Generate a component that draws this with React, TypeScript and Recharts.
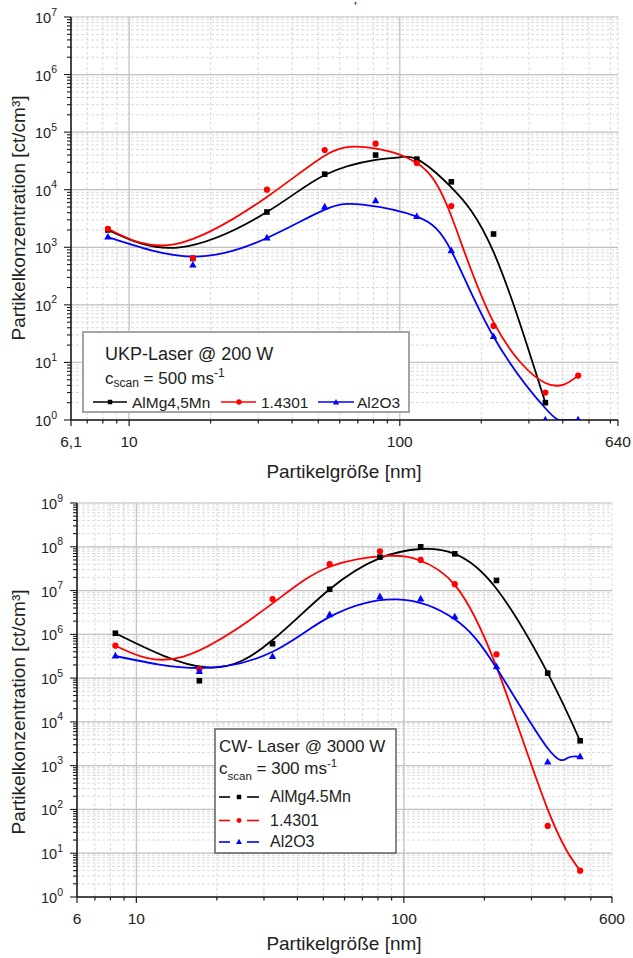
import React from 'react';
import { ComposedChart, XAxis, YAxis, CartesianGrid, ReferenceLine, Scatter, Line } from 'recharts';

const FONT = '"Liberation Sans", Arial, Helvetica, sans-serif';
const RED = '#ff0000';
const BLUE = '#0000ff';
const BLACK = '#000000';
const AXIS = '#1a1a1a';
const TXT = '#222222';

// ---------- particle size channels (nm) ----------
const sizeNm = [8.35, 17.2, 32.3, 52.8, 81.4, 115.6, 155, 222, 345, 456];

// ---------- UKP-Laser @ 200 W : measured ----------
const ukpAlMg = [2000, 640, 4100, 18600, 40000, 34000, 13700, 1700, 2.0];
const ukp14301 = [2100, 650, 10000, 49000, 63000, 29000, 5200, 43, 3.0, 5.9];
const ukpAl2O3 = [1500, 490, 1450, 5000, 6400, 3400, 870, 28, 1.0, 1.0];

// ---------- UKP-Laser @ 200 W : fitted curves ----------
const ukpFitAlMgX = [8.35, 15.4, 32.3, 52.8, 81.4, 97.5, 115.6, 155, 222, 345];
const ukpFitAlMgY = [2000, 1000, 4100, 18000, 33000, 36000, 34000, 11000, 830, 2.0];
const ukpFit14301X = [8.35, 15.0, 32.3, 52.8, 74.3, 115.6, 155, 222, 345, 456];
const ukpFit14301Y = [2100, 1150, 7500, 39000, 55000, 29000, 3500, 50, 4.4, 5.9];
const ukpFitAl2O3X = [8.35, 17.2, 32.3, 52.8, 73, 115.6, 155, 222, 345, 400, 456];
const ukpFitAl2O3Y = [1500, 690, 1450, 4500, 5500, 3400, 870, 28, 1.6, 1.0, 1.0];

// ---------- CW-Laser @ 3000 W : measured ----------
const cwAlMg = [1.06e6, 8.7e4, 6.1e5, 1.07e7, 5.8e7, 1.0e8, 6.9e7, 1.7e7, 1.3e5, 3700];
const cw14301 = [5.5e5, 1.6e5, 6.4e6, 4.0e7, 7.9e7, 5.0e7, 1.4e7, 3.5e5, 42, 4.0];
const cwAl2O3 = [3.2e5, 1.4e5, 3.1e5, 2.8e6, 7.2e6, 6.4e6, 2.5e6, 1.8e5, 1200, 1600];

// ---------- CW-Laser @ 3000 W : fitted curves ----------
const cwFitAlMgX = [8.35, 18.4, 32.3, 52.8, 81.4, 115.6, 155, 222, 345, 456];
const cwFitAlMgY = [1.06e6, 1.75e5, 7.4e5, 1.07e7, 5.5e7, 8.9e7, 6.9e7, 1.1e7, 1.3e5, 3700];
const cwFit14301X = [8.35, 15.0, 32.3, 52.8, 86.7, 115.6, 155, 222, 345, 456];
const cwFit14301Y = [5.5e5, 3.1e5, 5.1e6, 3.5e7, 6.2e7, 4.8e7, 1.35e7, 1.8e5, 100, 4];
const cwFitAl2O3X = [8.35, 17.2, 32.3, 52.8, 94, 155, 222, 345, 409, 456];
const cwFitAl2O3Y = [3.2e5, 1.7e5, 4.0e5, 2.5e6, 6.3e6, 2.2e6, 1.7e5, 2500, 1500, 1600];

// ---------- ticks ----------
const MINOR_MULT = [2, 3, 4, 5, 6, 7, 8, 9];
const ukpYMajor = [1, 10, 100, 1e3, 1e4, 1e5, 1e6, 1e7];
const cwYMajor = [1, 10, 100, 1e3, 1e4, 1e5, 1e6, 1e7, 1e8, 1e9];
const ukpXLabelValues = [6.1, 10, 100, 640];
const ukpXLabelText = ['6,1', '10', '100', '640'];
const ukpXMinor = [7, 8, 9, 20, 30, 40, 50, 60, 70, 80, 90, 200, 300, 400, 500, 600];
const cwXLabelValues = [6, 10, 100, 600];
const cwXLabelText = ['6', '10', '100', '600'];
const cwXMinor = [7, 8, 9, 20, 30, 40, 50, 60, 70, 80, 90, 200, 300, 400, 500];
const xMajorGrid = [10, 100];

const pts = (xs: number[], ys: number[]) => ys.map((y, i) => ({ x: xs[i], y }));

function logYTicks(majors: number[]) {
  const out: number[] = [];
  majors.forEach((m, i) => {
    out.push(m);
    if (i < majors.length - 1) MINOR_MULT.forEach((k) => out.push(k * m));
  });
  return out;
}

type Kind = 'square' | 'circle' | 'triangle';

function Marker({ cx, cy, kind, color, s = 1 }: { cx: number; cy: number; kind: Kind; color: string; s?: number }) {
  if (cx == null || cy == null || isNaN(cx) || isNaN(cy)) return null;
  if (kind === 'square') {
    const h = 2.8 * s;
    return <rect x={cx - h} y={cy - h} width={2 * h} height={2 * h} fill={color} />;
  }
  if (kind === 'circle') return <circle cx={cx} cy={cy} r={3.1 * s} fill={color} />;
  const a = 3.7 * s;
  return <polygon points={`${cx},${cy - 4.2 * s} ${cx - a},${cy + 2.4 * s} ${cx + a},${cy + 2.4 * s}`} fill={color} />;
}

type SeriesDef = { name: string; color: string; kind: Kind; data: { x: number; y: number }[]; fit: { x: number; y: number }[] };

type ChartDef = {
  width: number;
  height: number;
  margin: { top: number; right: number; bottom: number; left: number };
  xDomain: [number, number];
  yDomain: [number, number];
  xLabelValues: number[];
  xLabelText: string[];
  xMinor: number[];
  yMajor: number[];
  series: SeriesDef[];
};

function LogChart({ def }: { def: ChartDef }) {
  const labelMap = new Map<number, string>();
  def.xLabelValues.forEach((v, i) => labelMap.set(v, def.xLabelText[i]));
  const xTicks = [...def.xLabelValues, ...def.xMinor].sort((a, b) => a - b);
  const yTicks = logYTicks(def.yMajor);
  const yMajorSet = new Set(def.yMajor);

  const bottomTick = (p: any) => {
    const v = p.payload.value;
    const lab = labelMap.get(v);
    const len = lab !== undefined ? 6 : 3.5;
    return (
      <g>
        <line x1={p.x} x2={p.x} y1={p.y} y2={p.y + len} stroke={AXIS} strokeWidth={1.2} />
        {lab !== undefined && (
          <text x={p.x} y={p.y + 26.5} textAnchor="middle" fontSize={15.5} fontFamily={FONT} fill={TXT}>
            {lab}
          </text>
        )}
      </g>
    );
  };
  const topTick = (p: any) => {
    const v = p.payload.value;
    const len = labelMap.has(v) ? 7 : 4;
    return <line x1={p.x} x2={p.x} y1={p.y} y2={p.y + len} stroke={AXIS} strokeWidth={1.2} />;
  };
  const leftTick = (p: any) => {
    const v = p.payload.value;
    const major = yMajorSet.has(v);
    const exp = Math.round(Math.log10(v));
    return (
      <g>
        <line x1={p.x - (major ? 7 : 4)} x2={p.x} y1={p.y} y2={p.y} stroke={AXIS} strokeWidth={1.1} />
        {major && (
          <text x={p.x - 14} y={p.y + 6} textAnchor="end" fontSize={14.5} fontFamily={FONT} fill={TXT}>
            10
            <tspan dy={-7.5} fontSize={10.5}>
              {exp}
            </tspan>
          </text>
        )}
      </g>
    );
  };
  const rightTick = (p: any) => {
    const v = p.payload.value;
    const major = yMajorSet.has(v);
    return <line x1={p.x - (major ? 7 : 4)} x2={p.x} y1={p.y} y2={p.y} stroke={AXIS} strokeWidth={1.1} />;
  };

  const axisLine = { stroke: AXIS, strokeWidth: 1.6 };

  return (
    <ComposedChart width={def.width} height={def.height} margin={def.margin}>
      <CartesianGrid xAxisId="b" yAxisId="l" stroke="#d2d2d2" strokeDasharray="3 2" strokeWidth={0.8} />
      {def.yMajor.map((v) => (
        <ReferenceLine key={'ry' + v} xAxisId="b" yAxisId="l" y={v} stroke="#c2c2c2" strokeWidth={1.2} />
      ))}
      {xMajorGrid.map((v) => (
        <ReferenceLine key={'rx' + v} xAxisId="b" yAxisId="l" x={v} stroke="#c2c2c2" strokeWidth={1.2} />
      ))}
      {def.series.map((s) => (
        <Line
          key={'f' + s.name}
          xAxisId="b"
          yAxisId="l"
          data={s.fit}
          dataKey="y"
          type="natural"
          stroke={s.color}
          strokeWidth={1.8}
          dot={false}
          activeDot={false}
          isAnimationActive={false}
        />
      ))}
      {def.series.map((s) => (
        <Scatter
          key={'s' + s.name}
          xAxisId="b"
          yAxisId="l"
          data={s.data}
          dataKey="y"
          fill={s.color}
          isAnimationActive={false}
          shape={(p: any) => <Marker cx={p.cx} cy={p.cy} kind={s.kind} color={s.color} />}
        />
      ))}
      <XAxis
        xAxisId="b"
        dataKey="x"
        type="number"
        scale="log"
        domain={def.xDomain}
        allowDataOverflow
        ticks={xTicks}
        interval={0}
        height={30}
        tickSize={0}
        tickMargin={0}
        tickLine={false}
        axisLine={axisLine}
        tick={bottomTick}
      />
      <XAxis
        xAxisId="t"
        orientation="top"
        dataKey="x"
        type="number"
        scale="log"
        domain={def.xDomain}
        allowDataOverflow
        ticks={xTicks}
        interval={0}
        height={0}
        tickSize={0}
        tickMargin={0}
        tickLine={false}
        axisLine={axisLine}
        tick={topTick}
      />
      <YAxis
        yAxisId="l"
        dataKey="y"
        type="number"
        scale="log"
        domain={def.yDomain}
        allowDataOverflow
        ticks={yTicks}
        interval={0}
        width={60}
        tickSize={0}
        tickMargin={0}
        tickLine={false}
        axisLine={axisLine}
        tick={leftTick}
      />
      <YAxis
        yAxisId="r"
        orientation="right"
        dataKey="y"
        type="number"
        scale="log"
        domain={def.yDomain}
        allowDataOverflow
        ticks={yTicks}
        interval={0}
        width={0}
        tickSize={0}
        tickMargin={0}
        tickLine={false}
        axisLine={axisLine}
        tick={rightTick}
      />
    </ComposedChart>
  );
}

const ukpDef: ChartDef = {
  width: 633,
  height: 480,
  margin: { top: 17, right: 15, bottom: 30, left: 11 },
  xDomain: [6.1, 640],
  yDomain: [1, 1e7],
  xLabelValues: ukpXLabelValues,
  xLabelText: ukpXLabelText,
  xMinor: ukpXMinor,
  yMajor: ukpYMajor,
  series: [
    { name: 'AlMg4,5Mn', color: BLACK, kind: 'square', data: pts(sizeNm, ukpAlMg), fit: pts(ukpFitAlMgX, ukpFitAlMgY) },
    { name: '1.4301', color: RED, kind: 'circle', data: pts(sizeNm, ukp14301), fit: pts(ukpFit14301X, ukpFit14301Y) },
    { name: 'Al2O3', color: BLUE, kind: 'triangle', data: pts(sizeNm, ukpAl2O3), fit: pts(ukpFitAl2O3X, ukpFitAl2O3Y) },
  ],
};

const cwDef: ChartDef = {
  width: 633,
  height: 478,
  margin: { top: 23, right: 21, bottom: 31, left: 17 },
  xDomain: [6, 600],
  yDomain: [1, 1e9],
  xLabelValues: cwXLabelValues,
  xLabelText: cwXLabelText,
  xMinor: cwXMinor,
  yMajor: cwYMajor,
  series: [
    { name: 'AlMg4.5Mn', color: BLACK, kind: 'square', data: pts(sizeNm, cwAlMg), fit: pts(cwFitAlMgX, cwFitAlMgY) },
    { name: '1.4301', color: RED, kind: 'circle', data: pts(sizeNm, cw14301), fit: pts(cwFit14301X, cwFit14301Y) },
    { name: 'Al2O3', color: BLUE, kind: 'triangle', data: pts(sizeNm, cwAl2O3), fit: pts(cwFitAl2O3X, cwFitAl2O3Y) },
  ],
};

function Overlay() {
  const t = { fontFamily: FONT, fill: TXT } as const;
  return (
    <svg width={633} height={958} style={{ position: 'absolute', left: 0, top: 0, pointerEvents: 'none' }}>
      <text x={354} y={10} fontSize={10} fontWeight="bold" {...t}>’</text>
      {/* axis titles, top chart */}
      <text x={25} y={218} transform="rotate(-90 25 218)" textAnchor="middle" fontSize={19} {...t}>
        Partikelkonzentration [ct/cm³]
      </text>
      <text x={344} y={478} textAnchor="middle" fontSize={19} {...t}>Partikelgröße [nm]</text>
      {/* axis titles, bottom chart */}
      <text x={25} y={712} transform="rotate(-90 25 712)" textAnchor="middle" fontSize={19} {...t}>
        Partikelkonzentration [ct/cm³]
      </text>
      <text x={344} y={950} textAnchor="middle" fontSize={19} {...t}>Partikelgröße [nm]</text>

      {/* legend, top chart */}
      <rect x={83} y={332} width={326} height={80} fill="#ffffff" stroke="#a4a4a4" strokeWidth={2} />
      <text x={105} y={360} fontSize={18} {...t}>UKP-Laser @ 200 W</text>
      <text x={105} y={384} fontSize={17} {...t}>
        c<tspan fontSize={12} dy={3}>scan</tspan>
        <tspan fontSize={17} dy={-3}> = 500 ms</tspan>
        <tspan fontSize={12} dy={-7}>-1</tspan>
      </text>
      <line x1={93} x2={127} y1={402} y2={402} stroke={BLACK} strokeWidth={1.6} />
      <Marker cx={110} cy={402} kind="square" color={BLACK} s={0.8} />
      <text x={132} y={407.5} fontSize={15.5} {...t}>AlMg4,5Mn</text>
      <line x1={221} x2={256} y1={402} y2={402} stroke={RED} strokeWidth={1.6} />
      <Marker cx={239} cy={402} kind="circle" color={RED} s={0.85} />
      <text x={261} y={407.5} fontSize={15.5} {...t}>1.4301</text>
      <line x1={318} x2={354} y1={402} y2={402} stroke={BLUE} strokeWidth={1.6} />
      <Marker cx={336} cy={402.5} kind="triangle" color={BLUE} s={0.85} />
      <text x={357} y={407.5} fontSize={15.5} {...t}>Al2O3</text>

      {/* legend, bottom chart */}
      <rect x={215} y={729} width={181} height={124} fill="#ffffff" stroke="#4a4a4a" strokeWidth={1.3} />
      <text x={219} y={751.5} fontSize={17} {...t}>CW- Laser @ 3000 W</text>
      <text x={219} y={773.5} fontSize={17} {...t}>
        c<tspan fontSize={11.5} dy={6.5}>scan</tspan>
        <tspan fontSize={17} dy={-6.5}> = 300 ms</tspan>
        <tspan fontSize={11.5} dy={-7}>-1</tspan>
      </text>
      {[
        { y: 797, label: 'AlMg4.5Mn', color: BLACK, kind: 'square' as Kind },
        { y: 820.5, label: '1.4301', color: RED, kind: 'circle' as Kind },
        { y: 842, label: 'Al2O3', color: BLUE, kind: 'triangle' as Kind },
      ].map((r) => (
        <g key={r.label}>
          <line x1={219} x2={230} y1={r.y} y2={r.y} stroke={r.color} strokeWidth={1.6} />
          <line x1={247} x2={259} y1={r.y} y2={r.y} stroke={r.color} strokeWidth={1.6} />
          <Marker cx={239} cy={r.y} kind={r.kind} color={r.color} s={0.8} />
          <text x={270} y={r.y + 5} fontSize={16} {...t}>{r.label}</text>
        </g>
      ))}
    </svg>
  );
}

export default function App() {
  return (
    <div style={{ position: 'absolute', left: 0, top: 0, width: 633, height: 958, background: '#ffffff', fontFamily: FONT }}>
      <div style={{ position: 'absolute', left: 0, top: 0 }}>
        <LogChart def={ukpDef} />
      </div>
      <div style={{ position: 'absolute', left: 0, top: 480 }}>
        <LogChart def={cwDef} />
      </div>
      <Overlay />
    </div>
  );
}
